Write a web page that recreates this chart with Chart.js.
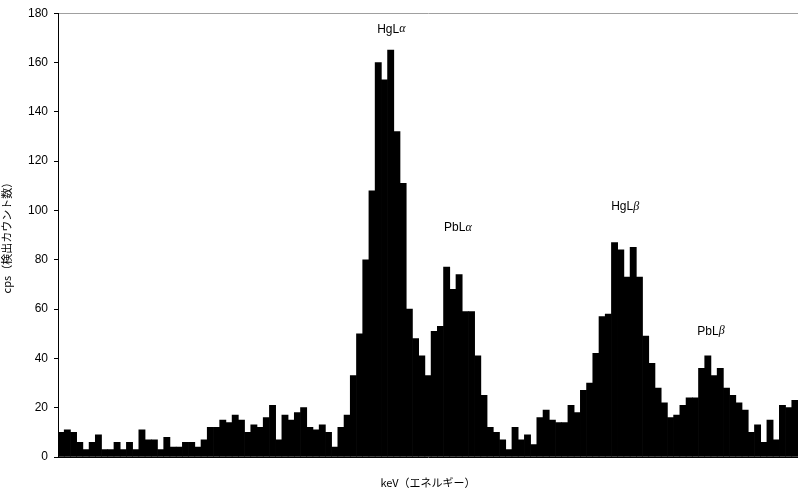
<!DOCTYPE html>
<html>
<head>
<meta charset="utf-8">
<script src="https://cdn.jsdelivr.net/npm/chart.js@4/dist/chart.umd.min.js"></script>
<style>
  html, body { margin: 0; padding: 0; background: #fff; }
  #wrap { width: 798px; height: 489px; }
</style>
</head>
<body>
<div id="wrap"><canvas id="spectrum"></canvas></div>
<script>
// cps per channel
const counts = [
    10, 11, 10, 6, 3, 6, 9, 3, 3, 6,
    3, 6, 3, 11, 7, 7, 3, 8, 4, 4,
    6, 6, 4, 7, 12, 12, 15, 14, 17, 15,
    10, 13, 12, 16, 21, 7, 17, 15, 18, 20,
    12, 11, 13, 10, 4, 12, 17, 33, 50, 80,
    108, 160, 153, 165, 132, 111, 60, 48, 41, 33,
    51, 53, 77, 68, 74, 59, 59, 41, 25, 12,
    10, 7, 3, 12, 7, 9, 5, 16, 19, 15,
    14, 14, 21, 18, 27, 30, 42, 57, 58, 87,
    84, 73, 85, 73, 49, 38, 28, 22, 16, 17,
    21, 24, 24, 36, 41, 33, 36, 28, 25, 22,
    19, 10, 13, 6, 15, 7, 21, 20, 23
];
const channels = counts.map((_, i) => i + 1);
const yTicks = [0, 20, 40, 60, 80, 100, 120, 140, 160, 180];

// peak names: [element + line, greek letter], channel index, cps
const peakNames = [['HgL', 'α'], ['PbL', 'α'], ['HgL', 'β'], ['PbL', 'β']];
const peakChannels = [53.1, 63.8, 90.7, 104.5];
const peakLevels = [173.5, 93, 101.5, 51];

const peakLabels = {
    id: 'peakLabels',
    afterDatasetsDraw(chart) {
        const { ctx, scales: { x, y } } = chart;
        ctx.save();
        ctx.fillStyle = '#000';
        ctx.textBaseline = 'middle';
        ctx.textAlign = 'left';
        peakNames.forEach(([base, greek], i) => {
            const px = x.getPixelForValue(peakChannels[i]);
            const py = y.getPixelForValue(peakLevels[i]);
            ctx.font = '12px "Liberation Sans", Arial, sans-serif';
            const w1 = ctx.measureText(base).width;
            ctx.font = 'italic 12px "Liberation Serif", "Times New Roman", serif';
            const w2 = ctx.measureText(greek).width;
            const left = px - (w1 + w2) / 2;
            ctx.font = '12px "Liberation Sans", Arial, sans-serif';
            ctx.fillText(base, left, py);
            ctx.font = 'italic 12px "Liberation Serif", "Times New Roman", serif';
            ctx.fillText(greek, left + w1, py);
        });
        ctx.restore();
    }
};

const ctx = document.getElementById('spectrum').getContext('2d');
new Chart(ctx, {
    type: 'bar',
    data: {
        labels: channels,
        datasets: [{
            data: counts,
            backgroundColor: '#000',
            borderWidth: 0,
            barPercentage: 1.0,
            categoryPercentage: 1.0
        }]
    },
    options: {
        responsive: true,
        maintainAspectRatio: false,
        animation: false,
        layout: { padding: { top: 13, right: 0, left: 0, bottom: 0 } },
        scales: {
            x: {
                grid: { display: false, drawTicks: false },
                border: { display: true, color: '#000', width: 1 },
                ticks: { display: false },
                title: {
                    display: true,
                    text: 'keV（エネルギー）',
                    color: '#000',
                    font: { family: '"Noto Sans CJK JP", sans-serif', size: 11 },
                    padding: { top: 8, bottom: 0 }
                },
                afterFit(scale) { scale.height = 32; }
            },
            y: {
                min: 0,
                max: 180,
                afterBuildTicks(scale) { scale.ticks = yTicks.map(v => ({ value: v })); },
                grid: {
                    drawOnChartArea: true,
                    color: c => c.tick && c.tick.value === 180 ? '#a0a0a0' : 'rgba(0,0,0,0)',
                    tickColor: '#000',
                    tickLength: 4
                },
                border: { display: true, color: '#000', width: 1 },
                ticks: {
                    color: '#000',
                    padding: 6,
                    font: { family: '"Liberation Sans", Arial, sans-serif', size: 12 }
                },
                title: {
                    display: true,
                    text: 'cps（検出カウント数）',
                    color: '#000',
                    font: { family: '"Noto Sans CJK JP", sans-serif', size: 11 },
                    padding: { top: 0, bottom: 2 }
                },
                afterFit(scale) { scale.width = 58; }
            }
        },
        plugins: {
            legend: { display: false },
            tooltip: { enabled: false }
        }
    },
    plugins: [peakLabels]
});
</script>
</body>
</html>
